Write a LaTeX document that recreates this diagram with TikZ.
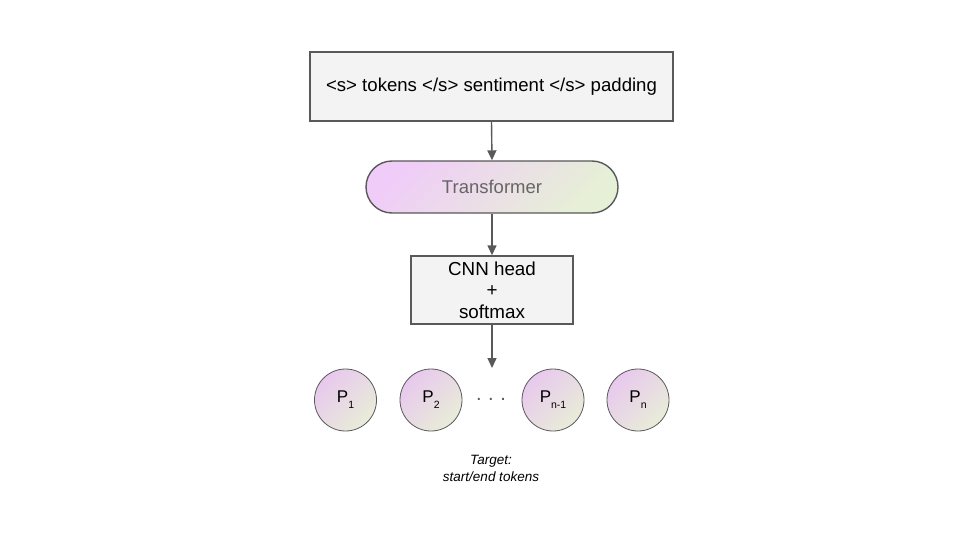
\documentclass[tikz,border=0pt]{standalone}
\usepackage{fontspec}
\setmainfont{Liberation Sans}
\usetikzlibrary{arrows.meta}
\definecolor{edge}{HTML}{595959}
\definecolor{boxfill}{HTML}{F3F3F3}
\definecolor{pinkc}{HTML}{F0CCF8}
\definecolor{greenc}{HTML}{E6F0D6}
\definecolor{cpink}{HTML}{E8C8EE}
\definecolor{cgreen}{HTML}{E8EDD8}
\definecolor{txtgray}{HTML}{666666}
\tikzset{
  box/.style={draw=edge, line width=1.4pt, fill=boxfill, inner sep=0pt, align=center},
  pill/.style={draw=edge, line width=1.4pt, rounded corners=26pt, shading=axis, top color=pinkc, bottom color=greenc, shading angle=45, minimum width=252pt, minimum height=52pt, inner sep=0pt},
  pcirc/.style={circle, draw=edge, line width=0.8pt, shading=axis, top color=cpink, bottom color=cgreen, shading angle=45, minimum size=62pt, inner sep=0pt, font=\fontsize{17}{19}\selectfont},
  conn/.style={draw=edge, line width=1.4pt, -{Triangle[length=10pt,width=9pt]}},
}
\newcommand{\psub}[1]{\raisebox{-0.65ex}{\fontsize{10.5}{12}\selectfont #1}}
\begin{document}
\begin{tikzpicture}[x=1pt,y=-1pt]
\useasboundingbox (0,0) rectangle (960,540);
\node[box, minimum width=363pt, minimum height=69pt, font=\fontsize{18.6}{22}\selectfont] (inp) at (491.5,86.5) {<s> tokens </s> sentiment </s> padding};
\node[pill, text=txtgray, font=\fontsize{18.5}{22}\selectfont] (tr) at (492,187) {Transformer};
\node[box, minimum width=162pt, minimum height=68pt, font=\fontsize{18.8}{21.5}\selectfont] (cnn) at (492,290) {CNN head\\+\\softmax};
\coordinate (arr) at (492,368);
\draw[conn] (inp.south) -- (tr.north);
\draw[conn] (tr.south) -- (cnn.north);
\draw[conn] (cnn.south) -- (arr);
\node[pcirc] (p1) at (345.5,400) {P\psub{1}};
\node[pcirc] (p2) at (431,400) {P\psub{2}};
\node[pcirc] (pn1) at (553,400) {P\psub{n-1}};
\node[pcirc] (pn) at (638,400) {P\psub{n}};
\node[font=\fontsize{20}{22}\selectfont, text=edge] (dots) at (491,399.5) {.\hspace{6.5pt}.\hspace{6.5pt}.};
\node[font=\fontsize{13.5}{17}\selectfont\itshape, align=center] (tgt) at (491,468) {Target:\\start/end tokens};
\end{tikzpicture}
\end{document}
